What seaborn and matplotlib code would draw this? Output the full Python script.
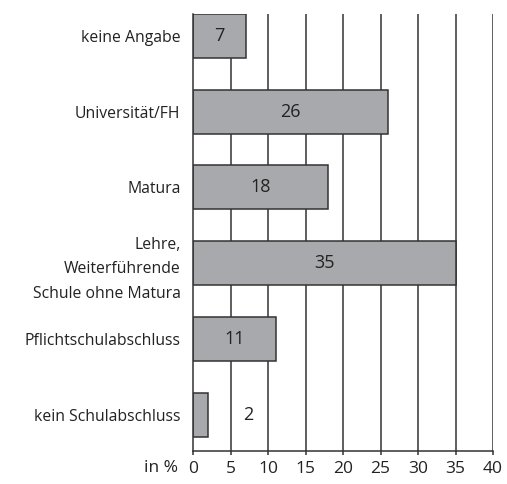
import pandas as pd
import matplotlib.pyplot as plt
import seaborn as sns

categories = ['keine Angabe', 'Universität/FH', 'Matura',
              'Lehre,\nWeiterführende\nSchule ohne Matura',
              'Pflichtschulabschluss', 'kein Schulabschluss']
values = [7, 26, 18, 35, 11, 2]
ticks = [0, 5, 10, 15, 20, 25, 30, 35, 40]

df = pd.DataFrame({'Abschluss': categories, 'Prozent': values})

sns.set_style('white')
plt.rcParams['font.family'] = ['Open Sans', 'DejaVu Sans']
fs_cat, fs_val, fs_tick = 11.3, 13, 12.5

fig = plt.figure(figsize=(5.07, 4.84), dpi=100)
ax = fig.add_axes([193 / 507, 33 / 484, 300 / 507, 437 / 484])

# vertical grid drawn under bars
for t in ticks[1:]:
    ax.axvline(t, color='#333333', lw=1.1, zorder=0)

sns.barplot(data=df, x='Prozent', y='Abschluss', orient='h', ax=ax,
            color='#a8a9ac', edgecolor='#333333', linewidth=1.1,
            width=0.58, saturation=1, zorder=2)

for i, v in enumerate(values):
    if v > 5:
        ax.text(v / 2, i, str(v), ha='center', va='center', fontsize=fs_val,
                color='#222222', zorder=3)
    else:
        ax.text(v + 5.3, i, str(v), ha='center', va='center', fontsize=fs_val,
                color='#222222', zorder=3,
                bbox=dict(facecolor='white', edgecolor='none', pad=4))

ax.set_xlim(0, 40)
ax.set_ylim(len(values) - 1 + 0.48, -0.29)
ax.set_xticks(ticks)
ax.set_xticklabels([str(t) for t in ticks], fontsize=fs_tick, color='#222222')
ax.tick_params(axis='x', length=3, width=1.1, color='#333333', pad=4, bottom=True)
ax.tick_params(axis='y', length=0, pad=9, labelsize=fs_cat, labelcolor='#222222')
for lbl in ax.get_yticklabels():
    lbl.set_multialignment('right')
    lbl.set_linespacing(1.7)
ax.set_xlabel('')
ax.set_ylabel('')
for s in ['top', 'right']:
    ax.spines[s].set_visible(False)
for s in ['left', 'bottom']:
    ax.spines[s].set_color('#333333')
    ax.spines[s].set_linewidth(1.1)

fig.text(178 / 507, 1 - 468 / 484, 'in %', ha='right', va='center',
         fontsize=fs_tick, color='#222222')

fig.savefig('out.png', dpi=100)
